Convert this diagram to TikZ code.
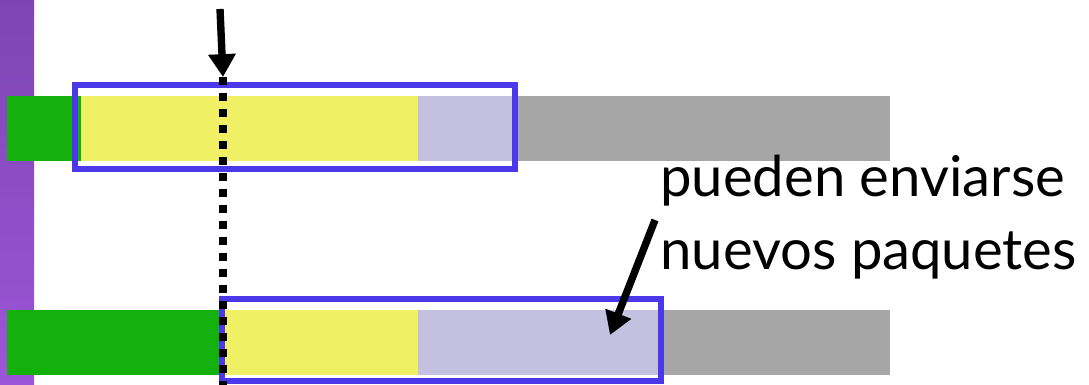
\documentclass[tikz,border=0pt]{standalone}
\usepackage{fontspec}
\setmainfont{Lato}
\usetikzlibrary{arrows.meta}

\definecolor{winpurpleA}{HTML}{7E45B2}
\definecolor{winpurpleB}{HTML}{9C56D8}
\definecolor{ackgreen}{HTML}{14B00C}
\definecolor{sentyellow}{HTML}{F0F064}
\definecolor{freelav}{HTML}{C4C0E0}
\definecolor{outgray}{HTML}{A6A6A6}
\definecolor{winblue}{HTML}{4B38E8}

\tikzset{
    winframe/.style={draw=winblue, line width=3.4pt},
    bigarrow/.style={-{Triangle[length=13pt, width=15pt]}, line width=4.2pt},
}

\begin{document}
\begin{tikzpicture}[x=0.02cm, y=-0.02cm]
    \useasboundingbox (0, 0) rectangle (1089, 385);
    % sender side
    \shade[top color=winpurpleA, bottom color=winpurpleB] (0, 0) rectangle (34, 385);
    % first window
    \fill[ackgreen] (7, 96) rectangle (81, 161);
    \fill[sentyellow] (81, 96) rectangle (418, 161);
    \fill[freelav] (418, 96) rectangle (514, 161);
    \fill[outgray] (514, 96) rectangle (890, 161);
    \draw[winframe] (75, 85) rectangle (515, 169);
    % second window, moved on
    \fill[ackgreen] (7, 310) rectangle (222, 375);
    \fill[sentyellow] (222, 310) rectangle (418, 375);
    \fill[freelav] (418, 310) rectangle (661, 375);
    \fill[outgray] (661, 310) rectangle (890, 375);
    \draw[winframe] (222, 299) rectangle (661, 381);
    % ack arrives
    \coordinate (acktop) at (220, 9);
    \coordinate (ackhit) at (223, 77);
    \coordinate (ackend) at (223, 385);
    \draw[bigarrow] (acktop) -- (ackhit);
    \draw[line width=4.3pt, dash pattern=on 4.5pt off 4.6pt] (ackhit) -- (ackend);
    \node[anchor=north west, align=left, inner sep=0pt,
          font=\fontsize{32}{41.4}\selectfont] (msg) at (660, 155)
          {pueden enviarse\\nuevos paquetes};
    \coordinate (newtip) at (610, 335);
    \draw[bigarrow] ([shift={(-5, 65)}]msg.north west) -- (newtip);
\end{tikzpicture}
\end{document}
